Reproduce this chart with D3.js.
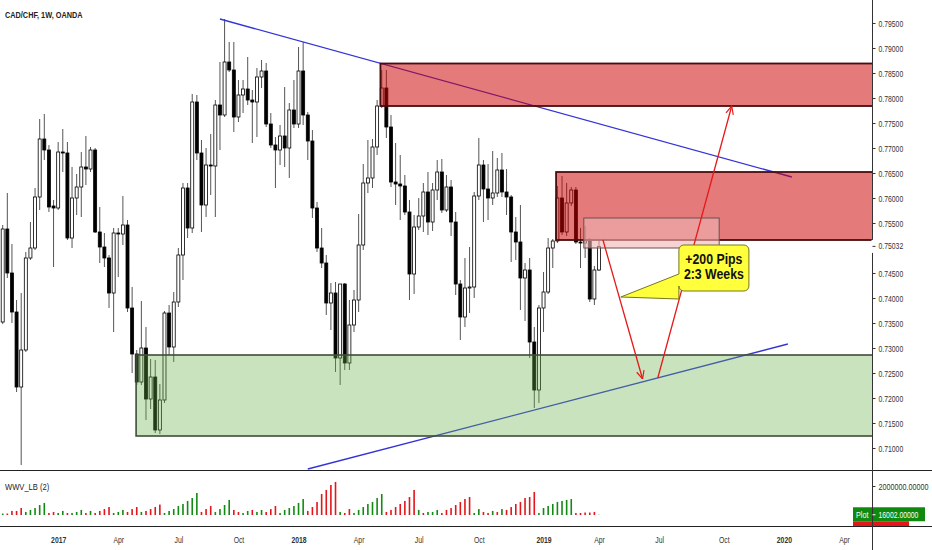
<!DOCTYPE html>
<html lang="en">
<head>
<meta charset="utf-8">
<title>CAD/CHF, 1W, OANDA</title>
<script src="https://d3js.org/d3.v7.min.js"></script>
<style>
body { margin: 0; background: #fff; }
svg text { font-family: "Liberation Sans", Arial, sans-serif; }
</style>
</head>
<body>
<div id="chart"></div>
<script>

// weekly candles, first bar = week of 2016-10-10
var firstWeek = "2016-10-10";

var opens = [0.7352,0.7538,0.7450,0.7372,0.7222,0.7296,0.7480,0.7500,0.7602,0.7718,
  0.7696,0.7584,0.7580,0.7692,0.7690,0.7520,0.7600,0.7622,0.7662,0.7658,
  0.7696,0.7532,0.7502,0.7480,0.7410,0.7530,0.7528,0.7546,0.7380,0.7288,
  0.7232,0.7300,0.7198,0.7242,0.7136,0.7196,0.7370,0.7302,0.7392,0.7486,
  0.7620,0.7540,0.7792,0.7690,0.7586,0.7666,0.7664,0.7786,0.7766,0.7872,
  0.7856,0.7762,0.7806,0.7818,0.7796,0.7792,0.7842,0.7854,0.7748,0.7706,
  0.7696,0.7724,0.7700,0.7776,0.7748,0.7854,0.7766,0.7714,0.7580,0.7500,
  0.7470,0.7390,0.7410,0.7280,0.7428,0.7270,0.7346,0.7396,0.7506,0.7630,
  0.7640,0.7702,0.7784,0.7820,0.7742,0.7632,0.7628,0.7624,0.7572,0.7448,
  0.7542,0.7564,0.7612,0.7552,0.7616,0.7652,0.7576,0.7622,0.7552,0.7428,
  0.7362,0.7420,0.7422,0.7604,0.7666,0.7618,0.7600,0.7610,0.7656,0.7612,
  0.7602,0.7532,0.7512,0.7440,0.7456,0.7312,0.7216,0.7380,0.7412,0.7500,
  0.7514,0.7600,0.7532,0.7590,0.7616,0.7512,0.7510,0.7514,0.7398,0.7456];

var highs = [0.7546,0.7610,0.7508,0.7396,0.7410,0.7492,0.7552,0.7620,0.7758,0.7768,
  0.7706,0.7596,0.7712,0.7738,0.7712,0.7662,0.7648,0.7692,0.7724,0.7702,
  0.7700,0.7582,0.7530,0.7486,0.7540,0.7540,0.7604,0.7556,0.7422,0.7296,
  0.7394,0.7342,0.7278,0.7276,0.7228,0.7374,0.7386,0.7412,0.7500,0.7630,
  0.7630,0.7808,0.7806,0.7716,0.7700,0.7728,0.7796,0.7872,0.7958,0.7912,
  0.7912,0.7836,0.7836,0.7882,0.7816,0.7860,0.7876,0.7870,0.7770,0.7722,
  0.7746,0.7822,0.7790,0.7836,0.7902,0.7912,0.7772,0.7736,0.7592,0.7540,
  0.7486,0.7430,0.7432,0.7428,0.7430,0.7396,0.7416,0.7568,0.7668,0.7716,
  0.7718,0.7796,0.7856,0.7856,0.7766,0.7710,0.7686,0.7646,0.7596,0.7566,
  0.7600,0.7630,0.7652,0.7630,0.7676,0.7678,0.7646,0.7636,0.7572,0.7436,
  0.7480,0.7502,0.7612,0.7720,0.7676,0.7668,0.7694,0.7680,0.7690,0.7658,
  0.7606,0.7562,0.7586,0.7470,0.7480,0.7342,0.7386,0.7452,0.7520,0.7518,
  0.7624,0.7644,0.7630,0.7622,0.7622,0.7540,0.7544,0.7520,0.7464,0.7518];

var lows = [0.7348,0.7440,0.7350,0.7212,0.7066,0.7292,0.7476,0.7496,0.7576,0.7676,
  0.7572,0.7462,0.7576,0.7652,0.7516,0.7500,0.7566,0.7562,0.7626,0.7652,
  0.7530,0.7470,0.7462,0.7380,0.7332,0.7442,0.7506,0.7372,0.7250,0.7226,
  0.7226,0.7156,0.7178,0.7130,0.7128,0.7190,0.7286,0.7272,0.7382,0.7436,
  0.7520,0.7530,0.7676,0.7532,0.7562,0.7606,0.7562,0.7696,0.7762,0.7852,
  0.7732,0.7752,0.7770,0.7786,0.7710,0.7722,0.7820,0.7742,0.7700,0.7620,
  0.7666,0.7662,0.7640,0.7740,0.7740,0.7746,0.7676,0.7560,0.7492,0.7460,
  0.7366,0.7336,0.7252,0.7226,0.7256,0.7256,0.7332,0.7372,0.7496,0.7610,
  0.7620,0.7686,0.7780,0.7720,0.7622,0.7586,0.7556,0.7566,0.7396,0.7408,
  0.7536,0.7532,0.7526,0.7534,0.7596,0.7570,0.7572,0.7524,0.7406,0.7316,
  0.7342,0.7370,0.7400,0.7596,0.7552,0.7556,0.7586,0.7602,0.7602,0.7566,
  0.7472,0.7476,0.7376,0.7354,0.7280,0.7180,0.7190,0.7332,0.7408,0.7460,
  0.7510,0.7526,0.7524,0.7584,0.7508,0.7460,0.7480,0.7392,0.7386,0.7454];

var closes = [0.7538,0.7450,0.7372,0.7222,0.7296,0.7480,0.7500,0.7602,0.7718,0.7696,
  0.7582,0.7580,0.7692,0.7690,0.7520,0.7600,0.7622,0.7662,0.7658,0.7696,
  0.7532,0.7502,0.7480,0.7410,0.7530,0.7528,0.7546,0.7380,0.7288,0.7232,
  0.7300,0.7198,0.7242,0.7136,0.7196,0.7370,0.7302,0.7392,0.7486,0.7620,
  0.7540,0.7792,0.7690,0.7586,0.7666,0.7664,0.7786,0.7766,0.7872,0.7856,
  0.7762,0.7806,0.7818,0.7796,0.7792,0.7842,0.7854,0.7748,0.7706,0.7696,
  0.7724,0.7700,0.7776,0.7748,0.7854,0.7766,0.7714,0.7580,0.7500,0.7470,
  0.7390,0.7410,0.7280,0.7428,0.7270,0.7346,0.7396,0.7506,0.7630,0.7640,
  0.7702,0.7784,0.7820,0.7742,0.7632,0.7628,0.7624,0.7572,0.7448,0.7542,
  0.7564,0.7612,0.7552,0.7616,0.7652,0.7576,0.7622,0.7552,0.7428,0.7362,
  0.7420,0.7422,0.7604,0.7666,0.7618,0.7600,0.7610,0.7656,0.7612,0.7602,
  0.7532,0.7512,0.7440,0.7456,0.7312,0.7216,0.7380,0.7412,0.7500,0.7514,
  0.7600,0.7532,0.7590,0.7616,0.7512,0.7510,0.7514,0.7398,0.7456,0.75032];

// WWV_LB (2) weis wave volume and its wave direction (1 = up wave)
var volumes = [100000,100000,280000,280000,480000,210000,350000,480000,690000,830000,
  140000,210000,140000,280000,140000,140000,210000,350000,140000,280000,
  140000,280000,410000,550000,140000,210000,350000,210000,410000,550000,
  210000,280000,410000,550000,720000,140000,280000,410000,620000,760000,
  970000,1170000,1520000,210000,410000,620000,210000,410000,690000,1040000,
  350000,210000,140000,280000,350000,210000,350000,210000,410000,620000,
  140000,350000,480000,620000,830000,1100000,280000,550000,900000,1450000,
  1730000,2070000,2280000,210000,140000,410000,140000,350000,550000,760000,
  900000,1170000,1450000,210000,350000,550000,760000,970000,1240000,1730000,
  350000,140000,210000,210000,350000,140000,350000,480000,690000,900000,
  1100000,1240000,140000,410000,210000,140000,280000,210000,410000,350000,
  550000,760000,900000,1170000,1240000,1590000,140000,480000,620000,760000,
  900000,970000,1040000,1100000,140000,140000,170000,170000,210000,16002];

var waveUp = [1,0,0,0,0,1,1,1,1,1, 0,0,1,1,0,1,1,1,0,1, 0,0,0,0,1,1,1,0,0,0,
  1,0,0,0,0,1,1,1,1,1, 1,1,1,0,0,0,1,1,1,1, 0,0,1,1,0,1,1,0,0,0,
  1,1,1,1,1,1,0,0,0,0, 0,0,0,1,0,0,1,1,1,1, 1,1,1,0,0,0,0,0,0,0,
  1,0,1,1,1,0,0,0,0,0, 0,0,1,1,0,0,1,0,1,0, 0,0,0,0,0,0,1,1,1,1,
  1,1,1,1,0,0,0,0,0,1];

var priceTicks = [0.795,0.790,0.785,0.780,0.775,0.770,0.765,0.760,0.755,
  0.745,0.740,0.735,0.730,0.725,0.720,0.715,0.710];
var volumeTicks = [2000000];
var timeTicks = ["2017-01-02","2017-04-03","2017-07-03","2017-10-02","2018-01-01","2018-04-02",
  "2018-07-02","2018-10-01","2019-01-07","2019-04-01","2019-07-01","2019-10-07","2020-01-06","2020-04-06"];

// drawings: zones [start, top, bottom] run to the price scale
var supplyZones = [["2018-05-05", 0.7869, 0.7784], ["2019-01-26", 0.7652, 0.7516]];
var demandZone = ["2017-04-30", 0.7286, 0.7124];
var entryBox = ["2019-03-09", "2019-09-30", 0.7560, 0.7500];
var trendLines = [[["2017-09-04", 0.7958], ["2020-01-18", 0.7642]],
                  [["2018-01-15", 0.7058], ["2020-01-12", 0.7308]]];
var arrows = [[["2019-04-07", 0.7516], ["2019-06-06", 0.7238]],
              [["2019-06-29", 0.7240], ["2019-10-19", 0.7784]]];
var calloutBox = ["2019-07-31", "2019-11-14", 0.7506, 0.7414];
var calloutTip = ["2019-05-04", 0.7402, 0.7448, 0.7398];
var calloutLines = ["+200 Pips", "2:3 Weeks"];
var lastPrice = 0.75032;

var W = 932, H = 550, paneRight = 872, mainBottom = 470, volBottom = 526;
var parseDay = d3.utcParse("%Y-%m-%d");
var fmt5 = d3.format(".5f");

// squeeze text horizontally around its anchor, the screenshot fonts are narrow
function condense(sel, k) {
  sel.each(function(){
    var x0 = +this.getAttribute("x") || 0;
    d3.select(this).attr("transform",
      "translate(" + x0 + ",0) scale(" + k + ",1) translate(" + (-x0) + ",0)");
  });
}

var dates = opens.map(function(d, i){ return d3.utcMonday.offset(parseDay(firstWeek), i); });

var x = d3.scaleUtc()
  .domain([dates[0], dates[dates.length - 1]])
  .range([2.7, 599]);
var y = d3.scaleLinear().domain([0.710, 0.795]).range([448, 23]);
var yv = d3.scaleLinear().domain([0, 2000000]).range([515, 486]);

var svg = d3.select("#chart").append("svg")
  .attr("width", W).attr("height", H);

var defs = svg.append("defs");
defs.append("clipPath").attr("id", "clipMain")
  .append("rect").attr("x", 0).attr("y", 0).attr("width", paneRight).attr("height", mainBottom);
defs.append("clipPath").attr("id", "clipVol")
  .append("rect").attr("x", 0).attr("y", mainBottom).attr("width", W).attr("height", volBottom - mainBottom);
defs.append("marker").attr("id", "head")
  .attr("viewBox", "0 0 10 10").attr("refX", 9.5).attr("refY", 5)
  .attr("markerWidth", 9).attr("markerHeight", 9)
  .attr("markerUnits", "userSpaceOnUse").attr("orient", "auto")
  .append("path").attr("d", "M0.5,0.8 L9.5,5 L0.5,9.2")
  .attr("fill", "none").attr("stroke", "#e61919").attr("stroke-width", 1.3);

var main = svg.append("g").attr("clip-path", "url(#clipMain)");

// candles
var idx = d3.range(opens.length);
var candle = main.selectAll("g.candle").data(idx).join("g").attr("class", "candle");
candle.append("line")
  .attr("x1", function(i){ return x(dates[i]); })
  .attr("x2", function(i){ return x(dates[i]); })
  .attr("y1", function(i){ return y(highs[i]); })
  .attr("y2", function(i){ return y(lows[i]); })
  .attr("stroke", "#555").attr("stroke-width", 1);
candle.append("rect")
  .attr("x", function(i){ return x(dates[i]) - 1.5; })
  .attr("width", 3)
  .attr("y", function(i){ return y(Math.max(opens[i], closes[i])); })
  .attr("height", function(i){ return Math.max(1, Math.abs(y(opens[i]) - y(closes[i]))); })
  .attr("fill", function(i){ return closes[i] >= opens[i] ? "#fff" : "#000"; })
  .attr("stroke", "#000").attr("stroke-width", 0.8);

// trend lines
main.selectAll("line.trend").data(trendLines).join("line").attr("class", "trend")
  .attr("x1", function(d){ return x(parseDay(d[0][0])); })
  .attr("y1", function(d){ return y(d[0][1]); })
  .attr("x2", function(d){ return x(parseDay(d[1][0])); })
  .attr("y2", function(d){ return y(d[1][1]); })
  .attr("stroke", "#3434d6").attr("stroke-width", 1.3);

// zones
main.selectAll("rect.supply").data(supplyZones).join("rect").attr("class", "supply")
  .attr("x", function(d){ return x(parseDay(d[0])); })
  .attr("y", function(d){ return y(d[1]); })
  .attr("width", function(d){ return paneRight + 4 - x(parseDay(d[0])); })
  .attr("height", function(d){ return y(d[2]) - y(d[1]); })
  .attr("fill", "rgba(204,0,0,0.52)").attr("stroke", "#4a0d0d").attr("stroke-width", 1.8);

main.append("rect")
  .attr("x", x(parseDay(demandZone[0])))
  .attr("y", y(demandZone[1]))
  .attr("width", paneRight + 4 - x(parseDay(demandZone[0])))
  .attr("height", y(demandZone[2]) - y(demandZone[1]))
  .attr("fill", "rgba(100,175,70,0.35)").attr("stroke", "#3f4d3a").attr("stroke-width", 1.6);

main.append("rect")
  .attr("x", x(parseDay(entryBox[0])))
  .attr("y", y(entryBox[2]))
  .attr("width", x(parseDay(entryBox[1])) - x(parseDay(entryBox[0])))
  .attr("height", y(entryBox[3]) - y(entryBox[2]))
  .attr("fill", "rgba(240,180,180,0.6)").attr("stroke", "#6a4f4f").attr("stroke-width", 1);

// arrows
main.selectAll("line.arrow").data(arrows).join("line").attr("class", "arrow")
  .attr("x1", function(d){ return x(parseDay(d[0][0])); })
  .attr("y1", function(d){ return y(d[0][1]); })
  .attr("x2", function(d){ return x(parseDay(d[1][0])); })
  .attr("y2", function(d){ return y(d[1][1]); })
  .attr("stroke", "#e61919").attr("stroke-width", 1.3)
  .attr("marker-end", "url(#head)");

// callout
var cx0 = x(parseDay(calloutBox[0])), cx1 = x(parseDay(calloutBox[1]));
var cy0 = y(calloutBox[2]), cy1 = y(calloutBox[3]), r = 5;
var tx = x(parseDay(calloutTip[0])), ty = y(calloutTip[1]);
var b0 = y(calloutTip[2]), b1 = y(calloutTip[3]);
var p = d3.path();
p.moveTo(cx0 + r, cy0);
p.lineTo(cx1 - r, cy0);
p.arcTo(cx1, cy0, cx1, cy0 + r, r);
p.lineTo(cx1, cy1 - r);
p.arcTo(cx1, cy1, cx1 - r, cy1, r);
p.lineTo(cx0 + r, cy1);
p.arcTo(cx0, cy1, cx0, cy1 - r, r);
p.lineTo(cx0, b1);
p.lineTo(tx, ty);
p.lineTo(cx0, b0);
p.lineTo(cx0, cy0 + r);
p.arcTo(cx0, cy0, cx0 + r, cy0, r);
p.closePath();
main.append("path").attr("d", p.toString())
  .attr("fill", "#ffff3c").attr("stroke", "#76761a").attr("stroke-width", 1);
var callText = main.selectAll("text.callout").data(calloutLines).join("text").attr("class", "callout")
  .attr("x", (cx0 + cx1) / 2)
  .attr("y", function(d, i){ return cy0 + 19.5 + i * 15; })
  .attr("text-anchor", "middle")
  .attr("font-size", 14).attr("font-weight", "bold").attr("fill", "#111")
  .text(function(d){ return d; });
condense(callText, 0.88);

// volume pane
var vol = svg.append("g").attr("clip-path", "url(#clipVol)");
vol.selectAll("rect.vbar").data(idx).join("rect").attr("class", "vbar")
  .attr("x", function(i){ return x(dates[i]) - 0.8; })
  .attr("width", 1.6)
  .attr("y", function(i){ return yv(volumes[i]); })
  .attr("height", function(i){ return yv(0) - yv(volumes[i]); })
  .attr("fill", function(i){ return waveUp[i] ? "#138a13" : "#e3161b"; });

// last value labels on the volume scale
var lastVol = volumes[volumes.length - 1];
vol.append("rect").attr("x", 853).attr("y", yv(lastVol) + 6.5).attr("width", 56).attr("height", 12)
  .attr("fill", "#e3161b");
vol.append("rect").attr("x", 853).attr("y", yv(lastVol) - 7.5).attr("width", 72).attr("height", 14)
  .attr("fill", "#0f8a0f");

// pane separators
svg.selectAll("line.sep").data([mainBottom, volBottom]).join("line").attr("class", "sep")
  .attr("x1", 0).attr("x2", W)
  .attr("y1", function(d){ return d + 0.5; }).attr("y2", function(d){ return d + 0.5; })
  .attr("stroke", "#222").attr("stroke-width", 1.2);

// price scale
svg.append("line").attr("x1", paneRight + 0.5).attr("x2", paneRight + 0.5)
  .attr("y1", 0).attr("y2", H).attr("stroke", "#333").attr("stroke-width", 1);

var pAxis = svg.append("g").attr("transform", "translate(" + (paneRight + 0.5) + ",0)")
  .call(d3.axisRight(y).tickValues(priceTicks).tickFormat(fmt5).tickSize(3).tickPadding(3));
pAxis.select(".domain").remove();
pAxis.attr("font-size", 9.5);
pAxis.selectAll("text").attr("fill", "#333");
pAxis.selectAll("line").attr("stroke", "#333");
condense(pAxis.selectAll("text"), 0.72);

// current price
var lp = svg.append("g").attr("transform", "translate(" + (paneRight + 0.5) + "," + y(lastPrice) + ")");
lp.append("rect").attr("x", -1).attr("y", -6.5).attr("width", W - paneRight + 1).attr("height", 13).attr("fill", "#fff");
lp.append("line").attr("x1", 0).attr("x2", 3).attr("stroke", "#333");
condense(lp.append("text").attr("x", 6).attr("dy", "0.32em").attr("font-size", 9.5)
  .attr("fill", "#333").text(fmt5(lastPrice)), 0.72);

// volume scale
var vAxis = svg.append("g").attr("transform", "translate(" + (paneRight + 0.5) + ",0)")
  .call(d3.axisRight(yv).tickValues(volumeTicks).tickFormat(fmt5).tickSize(3).tickPadding(3));
vAxis.select(".domain").remove();
vAxis.attr("font-size", 9.5);
vAxis.selectAll("text").attr("fill", "#333");
vAxis.selectAll("line").attr("stroke", "#333");
condense(vAxis.selectAll("text"), 0.76);

var plotLabel = svg.append("g").attr("clip-path", "url(#clipVol)");
condense(plotLabel.append("text").attr("x", 856).attr("y", yv(lastVol)).attr("dy", "0.35em")
  .attr("font-size", 9.5).attr("fill", "#fff").text("Plot"), 0.76);
plotLabel.append("line").attr("x1", paneRight + 0.5).attr("x2", paneRight + 3.5)
  .attr("y1", yv(lastVol)).attr("y2", yv(lastVol)).attr("stroke", "#fff");
condense(plotLabel.append("text").attr("x", paneRight + 6.5).attr("y", yv(lastVol)).attr("dy", "0.35em")
  .attr("font-size", 9.5).attr("fill", "#fff").text(fmt5(lastVol)), 0.72);

// time scale
var tAxis = svg.append("g").attr("transform", "translate(0," + volBottom + ")")
  .call(d3.axisBottom(x).tickValues(timeTicks.map(parseDay))
    .tickFormat(function(d){ return d.getUTCMonth() === 0 ? d3.utcFormat("%Y")(d) : d3.utcFormat("%b")(d); })
    .tickSize(0).tickPadding(10));
tAxis.select(".domain").remove();
tAxis.attr("font-size", 9.5);
tAxis.selectAll("text").attr("fill", "#333")
  .attr("font-weight", function(d){ return d.getUTCMonth() === 0 ? "bold" : "normal"; });
condense(tAxis.selectAll("text"), 0.72);

// titles
condense(svg.append("text").attr("x", 5).attr("y", 18).attr("font-size", 9.5).attr("font-weight", "bold")
  .attr("fill", "#222").text("CAD/CHF, 1W, OANDA"), 0.77);
condense(svg.append("text").attr("x", 5).attr("y", 490).attr("font-size", 9.5)
  .attr("fill", "#222").text("WWV_LB (2)"), 0.8);

</script>
</body>
</html>
